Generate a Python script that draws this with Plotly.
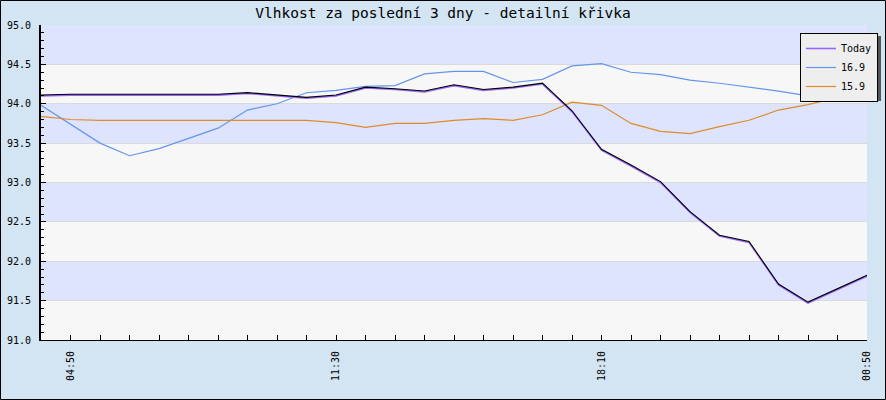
import plotly.graph_objects as go

# ---- data ----
x_index = list(range(29))
tick_positions = [1, 10, 19, 28]
tick_labels = ["04:50", "11:30", "18:10", "00:50"]

today = [94.10, 94.11, 94.11, 94.11, 94.11, 94.11, 94.11, 94.13, 94.10, 94.07,
         94.10, 94.20, 94.18, 94.15, 94.23, 94.17, 94.20, 94.25, 93.90, 93.41,
         93.21, 93.00, 92.62, 92.32, 92.24, 91.70, 91.47, 91.64, 91.81]
s169 = [93.98, 93.74, 93.50, 93.34, 93.43, 93.56, 93.69, 93.92, 94.00, 94.14,
        94.17, 94.22, 94.23, 94.38, 94.41, 94.41, 94.27, 94.31, 94.48, 94.51,
        94.40, 94.37, 94.30, 94.26, 94.21, 94.16, 94.10, 94.10, 94.10]
s159 = [93.84, 93.80, 93.79, 93.79, 93.79, 93.79, 93.79, 93.79, 93.79, 93.79,
        93.76, 93.70, 93.75, 93.75, 93.79, 93.81, 93.79, 93.86, 94.02, 93.98,
        93.75, 93.65, 93.62, 93.71, 93.79, 93.92, 93.99, 94.08, 94.09]

series_names = ["Today", "16.9", "15.9"]
series_colors = ["#9966FF", "#6495ED", "#E08A2A"]

title_text = "Vlhkost za poslední 3 dny - detailní křivka"
y_min, y_max, y_step = 91.0, 95.0, 0.5

# ---- layout geometry (pixels) ----
W, H = 886, 400
L, R, T, B = 41, 19, 25, 60
PW, PH = W - L - R, H - T - B

def px_x(p):
    return (p - L) / PW

def px_y(p):
    return (H - B - p) / PH

MONO = "DejaVu Sans Mono"

# legend box (pixels): right edge / top edge, approximate size
LEG_R, LEG_T, LEG_W, LEG_H = 878, 33, 78, 65

fig = go.Figure()

fig.add_trace(go.Scatter(x=x_index, y=s169, mode="lines", name=series_names[1],
                         line=dict(color=series_colors[1], width=1.2)))
fig.add_trace(go.Scatter(x=x_index, y=s159, mode="lines", name=series_names[2],
                         line=dict(color=series_colors[2], width=1.2)))
fig.add_trace(go.Scatter(x=x_index, y=today, mode="lines", name=series_names[0],
                         line=dict(color=series_colors[0], width=1.6)))
# thin dark edge drawn just above the Today curve
fig.add_trace(go.Scatter(x=x_index, y=[v + 0.011 for v in today], mode="lines",
                         showlegend=False, hoverinfo="skip",
                         line=dict(color="#000000", width=1.1)))

shapes = []
v = y_min
k = 0
while v < y_max - 1e-9:
    color = "#F7F7F7" if k % 2 == 0 else "#DEE4FE"
    shapes.append(dict(type="rect", xref="paper", yref="y", x0=0, x1=1,
                       y0=v, y1=v + y_step, fillcolor=color, line=dict(width=0),
                       layer="below"))
    v += y_step
    k += 1

# legend shadow
shapes.append(dict(type="rect", xref="paper", yref="paper",
                   x0=px_x(LEG_R - LEG_W + 3), x1=px_x(LEG_R + 3),
                   y0=px_y(LEG_T + LEG_H + 3), y1=px_y(LEG_T + 3),
                   fillcolor="#555555", line=dict(width=0), layer="above"))
# outer image border
shapes.append(dict(type="rect", xref="paper", yref="paper",
                   x0=px_x(0.5), x1=px_x(885.5), y0=px_y(399.5), y1=px_y(0.5),
                   line=dict(color="#000000", width=1), fillcolor="rgba(0,0,0,0)",
                   layer="above"))

fig.update_layout(
    width=W, height=H,
    margin=dict(l=L, r=R, t=T, b=B, pad=0, autoexpand=False),
    paper_bgcolor="#D3E4F2",
    plot_bgcolor="#F7F7F7",
    title=dict(text=title_text, x=0.5, xanchor="center", xref="container",
               y=1 - 13 / H, yanchor="middle", yref="container",
               font=dict(family=MONO, size=14.5, color="#000000")),
    shapes=shapes,
    showlegend=True,
    legend=dict(x=LEG_R / W, xanchor="right", xref="container",
                y=1 - LEG_T / H, yanchor="top", yref="container",
                bgcolor="#EEEEEE", bordercolor="#000000", borderwidth=1,
                font=dict(family=MONO, size=10, color="#000000"),
                traceorder="normal", itemwidth=30, tracegroupgap=0),
    xaxis=dict(range=[0, 28], showgrid=False, zeroline=False,
               tickmode="array", tickvals=x_index[1:],
               ticktext=[tick_labels[tick_positions.index(i)] if i in tick_positions else ""
                         for i in x_index[1:]],
               ticks="inside", ticklen=5, tickcolor="#000000", tickwidth=1,
               tickangle=-90, ticklabelstandoff=6,
               tickfont=dict(family=MONO, size=10, color="#000000"),
               showline=True, linecolor="#000000", linewidth=1, mirror=False),
    yaxis=dict(range=[y_min, y_max], tick0=y_min, dtick=y_step, tickformat=".1f",
               showgrid=True, gridcolor="#DADADA", gridwidth=1, zeroline=False,
               ticks="inside", ticklen=5, tickcolor="#000000", tickwidth=1,
               ticklabelstandoff=6,
               minor=dict(dtick=0.1, ticks="inside", ticklen=3,
                          tickcolor="#000000", showgrid=False),
               tickfont=dict(family=MONO, size=10, color="#000000"),
               showline=True, linecolor="#000000", linewidth=2, mirror=False),
)

fig.data[2].legendrank = 1
fig.data[0].legendrank = 2
fig.data[1].legendrank = 3

fig.write_html("out.html")
